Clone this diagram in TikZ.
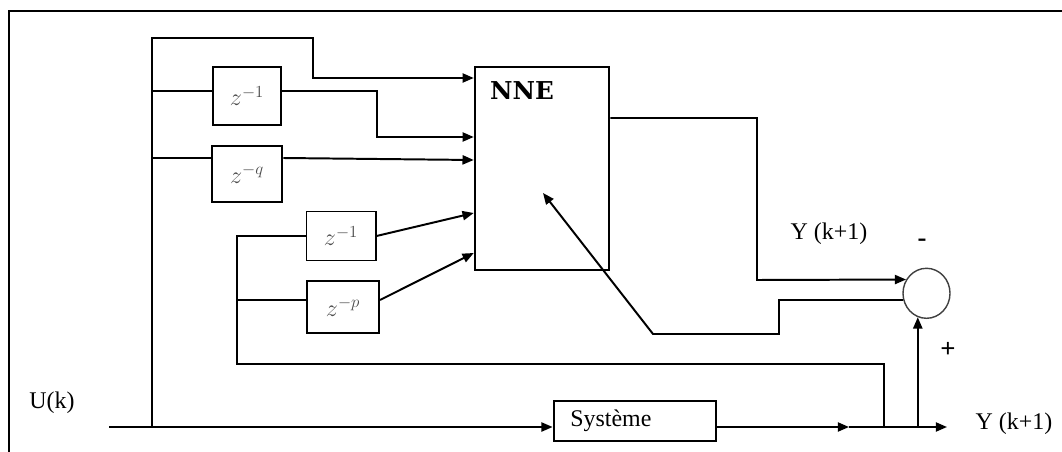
\documentclass[tikz,border=0pt]{standalone}
\usepackage{amsmath}
\usepackage{fontspec}
\setmainfont{Liberation Serif}
\newfontfamily\nnefont{DejaVu Serif}
\usetikzlibrary{arrows.meta,shapes.geometric}

\begin{document}
\begin{tikzpicture}[
  x=0.025cm, y=-0.025cm, line width=1.4pt,
  delay/.style={rectangle, draw, inner sep=0pt, font=\fontsize{18}{18}\selectfont, text=black!70},
  txt/.style={inner sep=0pt, font=\fontsize{17}{20}\selectfont},
  sign/.style={inner sep=0pt, font=\fontsize{19}{19}\selectfont\bfseries},
  arr/.style={-{Triangle[length=8pt, width=6.5pt]}}
]
  \useasboundingbox (0,0) rectangle (1062,452);
  \draw (9,452) -- (9,11) -- (1062,11);
  \node[delay, minimum width=1.72cm,  minimum height=1.43cm]  (zA) at (247,96)  {$z^{-1}$};
  \node[delay, minimum width=1.765cm, minimum height=1.405cm] (zQ) at (247,174) {$z^{-q}$};
  \node[delay, minimum width=1.725cm, minimum height=1.225cm] (zB) at (341,236) {$z^{-1}$};
  \node[delay, minimum width=1.8cm,   minimum height=1.31cm]  (zP) at (343,307) {$z^{-p}$};
  \node[draw, minimum width=3.3625cm, minimum height=5.05cm] (nne) at (542,168.5) {};
  \node[inner sep=0pt, font=\nnefont\bfseries\fontsize{17.5}{18}\selectfont] (nnelbl) at (522,91) {NNE};
  \node[draw, txt, minimum height=1.01cm, inner xsep=0.42cm, text width=3.23cm, align=left] (sys) at (635,421) {Système};
  \node[ellipse, draw=black!75, line width=1pt, minimum width=1.175cm, minimum height=1.25cm, inner sep=0pt] (sum) at (926.5,293.3) {};
  \coordinate (uin)  at (109,427);
  \coordinate (busB) at (152,427);
  \coordinate (busT) at (152,38);
  \coordinate (fbtip) at (543,193);
  % inputs of NNE
  \draw[arr] (busB) -- (busT) -| (313,78) -- (nne.west |- 0,78);
  \draw (busT |- 0,91) -- (zA.west |- 0,91);
  \draw[arr] (zA.east |- 0,91) -| (377,137) -- (nne.west |- 0,137);
  \draw (busT |- 0,158) -- (zQ.west |- 0,158);
  \draw[arr] (zQ.east |- 0,158) -- (nne.west |- 0,160);
  \draw (zB.west) -| (237,364) -| (884,427);
  \draw (237,300) -- (zP.west |- 0,300);
  \draw[arr] (zB.east) -- (nne.west |- 0,213);
  \draw[arr] (zP.east |- 0,300) -- (nne.west |- 0,253);
  % plant and error
  \draw[arr] (uin) -- (sys.west |- uin);
  \draw[arr] (sys.east |- uin) -- (849,427);
  \draw[arr] (849,427) -- (947,427);
  \draw[arr] (sum.250 |- 0,427) -- (sum.250);
  \draw[arr] (nne.east |- 0,118) -| (757,280) -- (sum.146);
  \draw[arr] (sum.196) -| (779,334) -- (653,334) -- (fbtip);
  \node[txt] (uk)   at (52,403)  {U(k)};
  \node[txt] (ynne) at (829,234) {Y (k+1)};
  \node[txt] (yout) at (1014,424) {Y (k+1)};
  \node[sign] (minus) at (922,243) {-};
  \node[sign] (plus)  at (948,350) {+};
\end{tikzpicture}
\end{document}
